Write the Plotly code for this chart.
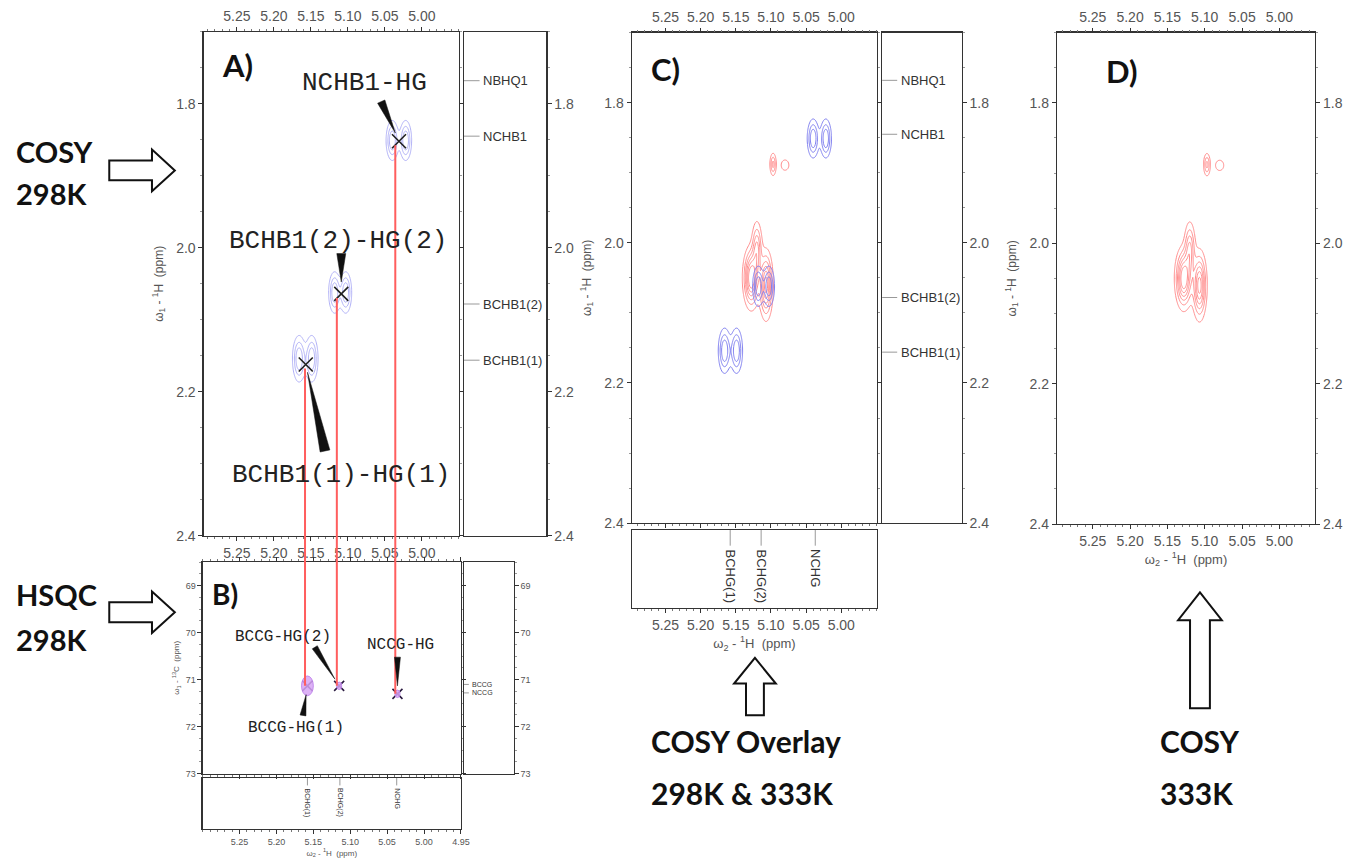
import numpy as np
import plotly.graph_objects as go

# ------------------------------------------------------------------ data
h_tick_vals = [5.25, 5.20, 5.15, 5.10, 5.05, 5.00]
h_tick_vals_hsqc = [5.25, 5.20, 5.15, 5.10, 5.05, 5.00, 4.95]
h1_tick_vals = [1.8, 2.0, 2.2, 2.4]
c13_tick_vals = [69, 70, 71, 72, 73]

# COSY 298 K cross-peak lobes (w2 ppm, w1 ppm, width x, width y, height)
cosy298_x = [5.040, 5.022, 5.118, 5.103, 5.166, 5.149]
cosy298_y = [1.851, 1.851, 2.062, 2.062, 2.154, 2.154]
cosy298_wx = [0.0047, 0.0045, 0.0045, 0.0045, 0.0050, 0.0048]
cosy298_wy = [0.0155, 0.0155, 0.0160, 0.0160, 0.0180, 0.0180]
cosy298_amp = [1.0, 1.0, 1.0, 1.0, 1.0, 1.0]

# COSY 333 K cross-peaks
cosy333_x = [5.097, 5.080, 5.128, 5.107, 5.120]
cosy333_y = [1.888, 1.889, 2.050, 2.060, 2.008]
cosy333_wx = [0.0028, 0.0045, 0.0062, 0.0052, 0.0042]
cosy333_wy = [0.0098, 0.0060, 0.0230, 0.0260, 0.0220]
cosy333_amp = [0.45, 0.25, 1.0, 0.9, 0.55]

# assigned COSY cross-peaks (298 K)
cosy_labels = ["NCHB1-HG", "BCHB1(2)-HG(2)", "BCHB1(1)-HG(1)"]
cosy_cross_x = [5.031, 5.109, 5.157]
cosy_cross_y = [1.852, 2.064, 2.162]

# assigned HSQC cross-peaks (298 K)
hsqc_labels = ["BCCG-HG(1)", "BCCG-HG(2)", "NCCG-HG"]
hsqc_x = [5.158, 5.115, 5.036]
hsqc_c = [71.13, 71.13, 71.30]
hsqc_blob_wx = [0.0080, 0.0035, 0.0035]
hsqc_blob_wc = [0.21, 0.08, 0.08]

# which HSQC peak each COSY peak is linked to
cosy_to_hsqc = [2, 1, 0]

# 1D assignment strips
w1_strip_labels = ["NBHQ1", "NCHB1", "BCHB1(2)", "BCHB1(1)"]
w1_strip_ppm = [1.768, 1.845, 2.078, 2.156]
c13_strip_labels = ["BCCG", "NCCG"]
c13_strip_ppm = [71.10, 71.28]
w2_strip_labels = ["BCHG(1)", "BCHG(2)", "NCHG"]
w2_strip_ppm = [5.158, 5.114, 5.037]

# ------------------------------------------------------------------ geometry
W, H = 1353, 861
FONT = "Liberation Sans"
MONO = "Liberation Mono"
BIG = "Lato"
AXC = "#333333"
TXC = "#555555"
BLUE = "#7f7ff0"
RED = "#ff8c8c"

PAN = {
    "A": dict(x=(205, 462), y=(32, 541), xr=[5.295, 4.95], yr=[2.40, 1.70]),
    "B": dict(x=(204, 464), y=(567, 781), xr=[5.30, 4.95], yr=[73.0, 68.49]),
    "C": dict(x=(636, 883), y=(33, 528), xr=[5.298, 4.949], yr=[2.40, 1.70]),
    "D": dict(x=(1064, 1324), y=(33, 529), xr=[5.298, 4.952], yr=[2.40, 1.70]),
}


def xd(a, b):
    return [a / W, b / W]


def yd(t, b):
    return [1 - b / H, 1 - t / H]


def to_px(p, xv, yv):
    P = PAN[p]
    (x0, x1), (t, b) = P["x"], P["y"]
    px = x0 + (xv - P["xr"][0]) / (P["xr"][1] - P["xr"][0]) * (x1 - x0)
    py = b - (yv - P["yr"][0]) / (P["yr"][1] - P["yr"][0]) * (b - t)
    return px, py


def paper(px, py):
    return px / W, 1 - py / H


def base_axis(**kw):
    d = dict(showline=True, linecolor=AXC, linewidth=1.2, showgrid=False,
             zeroline=False, ticks="outside", ticklen=4, tickcolor=AXC,
             tickwidth=1, tickfont=dict(family=FONT, size=14, color=TXC),
             fixedrange=True)
    d.update(kw)
    return d


def h_axis(p, vals, size=14, **kw):
    P = PAN[p]
    d = base_axis(domain=xd(*P["x"]), range=P["xr"], tickmode="array",
                  tickvals=vals, ticktext=["%.2f" % v for v in vals],
                  tickfont=dict(family=FONT, size=size, color=TXC),
                  minor=dict(tickmode="linear", tick0=5.0, dtick=0.01,
                             ticklen=2, ticks="outside", tickcolor="#777"))
    d.update(kw)
    return d


def w1_axis(p, vals, fmt, size=14, mdt=0.05, **kw):
    P = PAN[p]
    d = base_axis(domain=yd(*P["y"]), range=P["yr"], tickmode="array",
                  tickvals=vals, ticktext=[fmt % v for v in vals],
                  tickfont=dict(family=FONT, size=size, color=TXC),
                  minor=dict(tickmode="linear", tick0=vals[0], dtick=mdt,
                             ticklen=2, ticks="outside", tickcolor="#999"))
    d.update(kw)
    return d


def strip_axis(dom, **kw):
    d = dict(domain=dom, range=[0, 1], showline=True, mirror=True,
             linecolor=AXC, linewidth=1.2, showgrid=False, zeroline=False,
             ticks="", showticklabels=False, fixedrange=True)
    d.update(kw)
    return d


def title(txt, size=13, standoff=6):
    return dict(text=txt, font=dict(family=FONT, size=size, color=TXC),
                standoff=standoff)


T_W2 = "ω<sub>2</sub> - <sup>1</sup>H  (ppm)"
T_W1 = "ω<sub>1</sub> - <sup>1</sup>H  (ppm)"
T_C13 = "ω<sub>1</sub> - <sup>13</sup>C  (ppm)"

lay = {}
# ---- panel A
lay["xaxis"] = h_axis("A", h_tick_vals, anchor="y", mirror=True)
lay["xaxis2"] = h_axis("A", h_tick_vals, anchor="y", overlaying="x",
                       side="top", showline=False)
lay["yaxis"] = w1_axis("A", h1_tick_vals, "%.1f", anchor="x", mirror="ticks",
                       title=title(T_W1, 12, 10))
lay["xaxis3"] = strip_axis(xd(467, 550), anchor="y3")
lay["yaxis3"] = w1_axis("A", h1_tick_vals, "%.1f", anchor="x3", side="right",
                        mirror=True)
# ---- panel B
lay["xaxis4"] = h_axis("B", h_tick_vals_hsqc, size=9, anchor="y4",
                       mirror="ticks", showticklabels=False)
lay["yaxis4"] = w1_axis("B", c13_tick_vals, "%d", size=9, mdt=0.25,
                        anchor="x4", mirror="ticks",
                        title=title(T_C13, 8, 4))
lay["xaxis5"] = strip_axis(xd(467, 517), anchor="y5")
lay["yaxis5"] = w1_axis("B", c13_tick_vals, "%d", size=9, mdt=0.25,
                        anchor="x5", side="right", mirror=True)
lay["xaxis6"] = h_axis("B", h_tick_vals_hsqc, size=9, anchor="y6",
                       mirror=True, title=title(T_W2, 8, 1))
lay["yaxis6"] = strip_axis(yd(785, 837), anchor="x6")
# ---- panel C
lay["xaxis7"] = h_axis("C", h_tick_vals, anchor="y7", mirror=True,
                       showticklabels=False)
lay["xaxis8"] = h_axis("C", h_tick_vals, anchor="y7", overlaying="x7",
                       side="top", showline=False)
lay["yaxis7"] = w1_axis("C", h1_tick_vals, "%.1f", anchor="x7",
                        mirror="ticks", title=title(T_W1, 12, 10))
lay["xaxis9"] = strip_axis(xd(888, 968), anchor="y9")
lay["yaxis9"] = w1_axis("C", h1_tick_vals, "%.1f", anchor="x9", side="right",
                        mirror=True)
lay["xaxis10"] = h_axis("C", h_tick_vals, anchor="y10", mirror=True,
                        title=title(T_W2, 13, 6))
lay["yaxis10"] = strip_axis(yd(535, 614), anchor="x10")
# ---- panel D
lay["xaxis11"] = h_axis("D", h_tick_vals, anchor="y11", mirror=True,
                        title=title(T_W2, 13, 6))
lay["xaxis12"] = h_axis("D", h_tick_vals, anchor="y11", overlaying="x11",
                        side="top", showline=False)
lay["yaxis11"] = w1_axis("D", h1_tick_vals, "%.1f", anchor="x11", mirror=True,
                         title=title(T_W1, 12, 10))
lay["yaxis12"] = w1_axis("D", h1_tick_vals, "%.1f", anchor="x11",
                         overlaying="y11", side="right", showline=False)

fig = go.Figure()

# placeholder traces so every axis pair is drawn
for xa, ya in [("x2", "y"), ("x3", "y3"), ("x5", "y5"), ("x6", "y6"),
               ("x8", "y7"), ("x9", "y9"), ("x10", "y10"), ("x12", "y11"),
               ("x11", "y12")]:
    fig.add_trace(go.Scatter(x=[None], y=[None], xaxis=xa, yaxis=ya,
                             mode="markers", showlegend=False,
                             hoverinfo="skip"))

# ---- contour surfaces from peak lists
gx = np.round(np.arange(4.99, 5.215, 0.001), 4)
gy = np.round(np.arange(1.76, 2.25, 0.0015), 4)
GX, GY = np.meshgrid(gx, gy)


def surface(px, py, wx, wy, amp):
    Z = np.zeros_like(GX)
    for a, b, sx, sy, h in zip(px, py, wx, wy, amp):
        Z += h * np.exp(-0.5 * ((GX - a) / sx) ** 2 - 0.5 * ((GY - b) / sy) ** 2)
    return np.round(Z, 4)


Z298 = surface(cosy298_x, cosy298_y, cosy298_wx, cosy298_wy, cosy298_amp)
Z333 = surface(cosy333_x, cosy333_y, cosy333_wx, cosy333_wy, cosy333_amp)


def contour(Z, col, xa, ya, start, end, size, width=1.0):
    return go.Contour(x=gx, y=gy, z=Z, xaxis=xa, yaxis=ya, showscale=False,
                      contours=dict(coloring="none", start=start, end=end,
                                    size=size),
                      line=dict(color=col, width=width), hoverinfo="skip",
                      showlegend=False)


fig.add_trace(contour(Z298, "#a8a8f5", "x", "y", 0.2, 0.75, 0.25, 0.9))
fig.add_trace(contour(Z333, RED, "x7", "y7", 0.12, 0.95, 0.14))
fig.add_trace(contour(Z298, BLUE, "x7", "y7", 0.2, 0.75, 0.25))
fig.add_trace(contour(Z333, RED, "x11", "y11", 0.12, 0.95, 0.14))

shapes = []
annots = []

# ---- HSQC purple blobs
for a, c, wx, wc in zip(hsqc_x, hsqc_c, hsqc_blob_wx, hsqc_blob_wc):
    shapes.append(dict(type="circle", xref="x4", yref="y4", x0=a - wx,
                       x1=a + wx, y0=c - wc, y1=c + wc,
                       fillcolor="rgba(215,165,245,0.85)",
                       line=dict(color="rgba(190,130,235,0.9)", width=1)))

# ---- red linking lines (COSY cross -> HSQC cross)
for i, j in enumerate(cosy_to_hsqc):
    _, ytop = to_px("A", cosy_cross_x[i], cosy_cross_y[i])
    _, ybot = to_px("B", hsqc_x[j], hsqc_c[j])
    shapes.append(dict(type="line", xref="x", yref="paper",
                       x0=hsqc_x[j], x1=hsqc_x[j],
                       y0=paper(0, ytop + 4)[1], y1=paper(0, ybot)[1],
                       line=dict(color="#ff5e5e", width=2)))

# ---- cross markers
fig.add_trace(go.Scatter(x=cosy_cross_x, y=cosy_cross_y, xaxis="x", yaxis="y",
                         mode="markers", showlegend=False, hoverinfo="skip",
                         marker=dict(symbol="x-thin", size=14,
                                     line=dict(color="#222", width=1.6))))
fig.add_trace(go.Scatter(x=hsqc_x, y=hsqc_c, xaxis="x4", yaxis="y4",
                         mode="markers", showlegend=False, hoverinfo="skip",
                         marker=dict(symbol="x-thin", size=10,
                                     line=dict(color="#2a1a40", width=1.6))))

# ---- label text + wedge pointers
a_lab_pos = [(5.077, 1.771), (5.114, 1.990), (5.109, 2.316)]
a_wedge_base = [(5.055, 1.797), (5.109, 2.008), (5.131, 2.282)]
a_wedge = [(4.0, 9), (4.5, 12), (5.0, 8)]
for k, lab in enumerate(cosy_labels):
    annots.append(dict(xref="x", yref="y", x=a_lab_pos[k][0],
                       y=a_lab_pos[k][1], text=lab, showarrow=False,
                       font=dict(family=MONO, size=26, color="#222")))

b_lab_pos = [(5.173, 72.03), (5.191, 70.09), (5.032, 70.26)]
b_wedge_base = [(5.164, 71.76), (5.148, 70.31), (5.036, 70.52)]
b_wedge = [(3.0, 9), (3.0, 8), (3.0, 8)]
for k, lab in enumerate(hsqc_labels):
    annots.append(dict(xref="x4", yref="y4", x=b_lab_pos[k][0],
                       y=b_lab_pos[k][1], text=lab, showarrow=False,
                       font=dict(family=MONO, size=16, color="#222")))


def wedge(p, base, tip, hw, stop):
    bx, by = to_px(p, *base)
    tx, ty = to_px(p, *tip)
    dx, dy = tx - bx, ty - by
    L = (dx * dx + dy * dy) ** 0.5
    ux, uy = dx / L, dy / L
    tx, ty = tx - ux * stop, ty - uy * stop
    nx, ny = -uy, ux
    pts = [(bx + nx * hw, by + ny * hw), (tx, ty), (bx - nx * hw, by - ny * hw)]
    s = "M " + " L ".join("%.5f %.5f" % paper(*q) for q in pts) + " Z"
    return dict(type="path", xref="paper", yref="paper", path=s,
                fillcolor="#111", line=dict(color="#111", width=0.5))


for k in range(3):
    shapes.append(wedge("A", a_wedge_base[k], (cosy_cross_x[k], cosy_cross_y[k]),
                        a_wedge[k][0], a_wedge[k][1]))
    shapes.append(wedge("B", b_wedge_base[k], (hsqc_x[k], hsqc_c[k]),
                        b_wedge[k][0], b_wedge[k][1]))


# ---- strip labels
def right_strip(xa, ya, labels, ppm, size, frac):
    lx, ly = [], []
    for v in ppm:
        lx += [0, frac, None]
        ly += [v, v, None]
    fig.add_trace(go.Scatter(x=lx, y=ly, xaxis=xa, yaxis=ya, mode="lines",
                             line=dict(color="#999", width=1),
                             showlegend=False, hoverinfo="skip"))
    for lab, v in zip(labels, ppm):
        annots.append(dict(xref=xa, yref=ya, x=frac + 0.02, y=v, text=lab,
                           xanchor="left", yanchor="middle", showarrow=False,
                           font=dict(family=FONT, size=size, color="#333")))


def bottom_strip(xa, ya, labels, ppm, size, frac):
    lx, ly = [], []
    for v in ppm:
        lx += [v, v, None]
        ly += [1, 1 - frac, None]
    fig.add_trace(go.Scatter(x=lx, y=ly, xaxis=xa, yaxis=ya, mode="lines",
                             line=dict(color="#999", width=1),
                             showlegend=False, hoverinfo="skip"))
    for lab, v in zip(labels, ppm):
        annots.append(dict(xref=xa, yref=ya, x=v, y=1 - frac - 0.02, text=lab,
                           textangle=90, xanchor="center", yanchor="top",
                           showarrow=False,
                           font=dict(family=FONT, size=size, color="#333")))


right_strip("x3", "y3", w1_strip_labels, w1_strip_ppm, 13, 0.19)
right_strip("x9", "y9", w1_strip_labels, w1_strip_ppm, 13, 0.19)
right_strip("x5", "y5", c13_strip_labels, c13_strip_ppm, 7, 0.1)
bottom_strip("x10", "y10", w2_strip_labels, w2_strip_ppm, 13, 0.2)
bottom_strip("x6", "y6", w2_strip_labels, w2_strip_ppm, 7, 0.15)


# ---- big captions
def big(txt, x, y, size=29):
    annots.append(dict(xref="paper", yref="paper", x=x / W, y=1 - y / H,
                       text=txt, xanchor="left", yanchor="middle",
                       showarrow=False,
                       font=dict(family=BIG, size=size, color="#111",
                                 weight="bold")))


big("COSY", 14, 153)
big("298K", 14, 195)
big("HSQC", 14, 600)
big("298K", 14, 645)
big("A)", 221, 66, 31)
big("B)", 211, 600, 28)
big("C)", 653, 70, 31)
big("D)", 1111, 72, 31)
big("COSY Overlay", 653, 748, 30)
big("298K &amp; 333K", 653, 800, 30)
big("COSY", 1166, 748, 30)
big("333K", 1166, 800, 30)


# ---- hollow block arrows
def path_px(pts):
    s = "M " + " L ".join("%.5f %.5f" % paper(*q) for q in pts) + " Z"
    return dict(type="path", xref="paper", yref="paper", path=s,
                fillcolor="white", line=dict(color="#111", width=2))


def right_arrow(tail, hb, tip, cy, sh, hh):
    return path_px([(tail, cy - sh), (hb, cy - sh), (hb, cy - hh), (tip, cy),
                    (hb, cy + hh), (hb, cy + sh), (tail, cy + sh)])


def up_arrow(cx, bottom, hb, tip, hw, sw):
    return path_px([(cx - sw, bottom), (cx - sw, hb), (cx - hw, hb), (cx, tip),
                    (cx + hw, hb), (cx + sw, hb), (cx + sw, bottom)])


shapes.append(right_arrow(110, 153, 176, 172, 10, 21))
shapes.append(right_arrow(110, 153, 176, 618, 10, 21))
shapes.append(up_arrow(760, 722, 690, 664, 21, 9))
shapes.append(up_arrow(1208, 715, 626, 598, 22, 10))

fig.update_layout(
    width=W, height=H, autosize=False,
    margin=dict(l=0, r=0, t=0, b=0),
    paper_bgcolor="white", plot_bgcolor="white",
    showlegend=False, hovermode=False,
    shapes=shapes, annotations=annots,
    **lay,
)

fig.write_html("out.html",
               config={"displayModeBar": False, "staticPlot": True},
               post_script="document.body.style.margin='0';"
                           "document.body.style.overflow='hidden';")
